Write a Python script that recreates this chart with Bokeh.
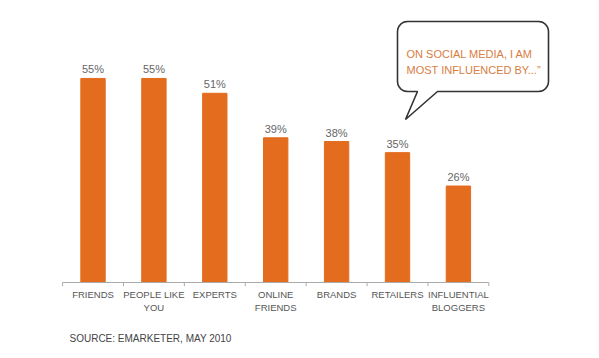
from bokeh.plotting import figure
from bokeh.models import Range1d, ColumnDataSource
from bokeh.core.properties import value
from bokeh.embed import file_html
from bokeh.resources import INLINE
import math

categories = ["FRIENDS", "PEOPLE LIKE\nYOU", "EXPERTS", "ONLINE\nFRIENDS",
              "BRANDS", "RETAILERS", "INFLUENTIAL\nBLOGGERS"]
values = [55, 55, 51, 39, 38, 35, 26]
value_labels = ["55%", "55%", "51%", "39%", "38%", "35%", "26%"]
title_lines = ["ON SOCIAL MEDIA, I AM", "MOST INFLUENCED BY...\u201d"]
source_note = "SOURCE: EMARKETER, MAY 2010"

W, H = 583, 352
OFF = 0       # page offset of the canvas
PX_X = 60.9   # pixels per category
PX_Y = 3.71   # pixels per percent
X0 = -(92.5 - OFF) / PX_X
Y1 = (282 - OFF) / PX_Y
xr = Range1d(X0, X0 + W / PX_X)
yr = Range1d(Y1 - H / PX_Y, Y1)

def dx(px):  # page px -> data x
    return X0 + (px - OFF) / PX_X

def dy(py):  # page px -> data y
    return Y1 - (py - OFF) / PX_Y

p = figure(width=W, height=H, x_range=xr, y_range=yr, output_backend="svg",
           toolbar_location=None, min_border=0)
p.axis.visible = False
p.grid.visible = False
p.outline_line_color = None
p.background_fill_color = "white"

idx = list(range(len(categories)))
src = ColumnDataSource(dict(x=idx, top=values, lab=value_labels, cat=categories))

p.vbar(x="x", top="top", bottom=0, width=0.4, color="#E36C1E", source=src)
p.text(x="x", y="top", text="lab", source=src, text_align="center",
       text_baseline="alphabetic", y_offset=-9, text_font=value("Liberation Sans"),
       text_font_size="11px", text_color="#666666")

# axis line and ticks at category boundaries
n = len(categories)
p.segment(x0=-0.5, y0=0, x1=n - 0.5, y1=0, line_color="#aaaaaa", line_width=1)
bx = [i - 0.5 for i in range(n + 1)]
p.segment(x0=bx, y0=[0] * len(bx), x1=bx, y1=[-1] * len(bx),
          line_color="#aaaaaa", line_width=1)

p.text(x="x", y=0, text="cat", source=src, text_align="center",
       text_baseline="top", y_offset=6, text_font=value("Liberation Sans"),
       text_font_size="9.5px", text_color="#555555", text_line_height=1.25)

# source note
p.text(x=[dx(69)], y=[dy(338)], text=[source_note], text_align="left",
       text_baseline="middle", text_font=value("Liberation Sans"),
       text_font_size="10px", text_color="#444444")

# speech bubble
L, R, T, B, r = 397, 548, 21, 91, 10
pts = []
def arc(cx, cy, a0, a1):
    for k in range(7):
        a = math.radians(a0 + (a1 - a0) * k / 6)
        pts.append((cx + r * math.cos(a), cy + r * math.sin(a)))
arc(L + r, T + r, 180, 270)
arc(R - r, T + r, 270, 360)
arc(R - r, B - r, 0, 90)
pts += [(437, B), (405, 119), (417, B)]
arc(L + r, B - r, 90, 180)
p.patch(x=[dx(a) for a, b in pts], y=[dy(b) for a, b in pts],
        fill_color="white", line_color="#333333", line_width=1.6)
p.text(x=[dx(406)] * 2, y=[dy(53), dy(69)], text=title_lines, text_align="left",
       text_baseline="alphabetic", text_font=value("Liberation Sans"),
       text_font_size="11px", text_color="#D87D42")

open("out.html", "w").write(file_html(p, INLINE))
